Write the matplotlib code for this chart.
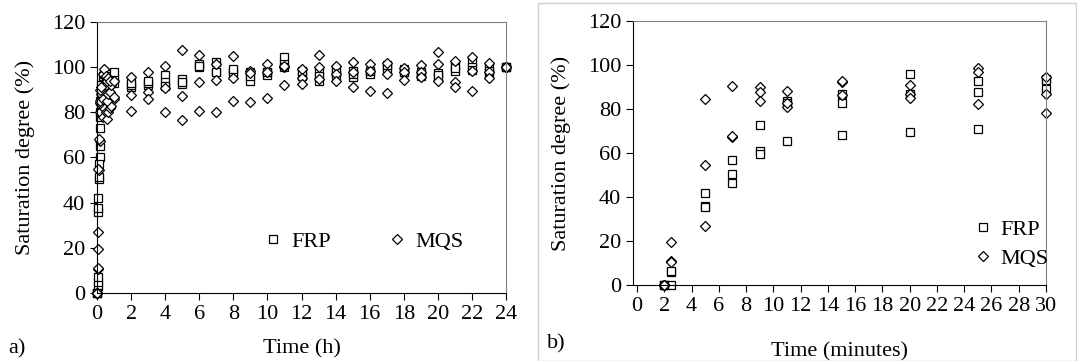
import numpy as np
import matplotlib
matplotlib.use("Agg")
import matplotlib.pyplot as plt
from matplotlib.patches import Rectangle

plt.rcParams['font.family'] = ['Liberation Serif', 'DejaVu Serif']

# a) saturation over 24 h, three replicates per material
time_h = [0, 0.033, 0.083, 0.117, 0.15, 0.183, 0.25, 0.333, 0.417, 0.5,
          0.583, 0.667, 0.75, 0.833, 1.0,
          2, 3, 4, 5, 6, 7, 8, 9, 10, 11, 12, 13, 14, 15, 16, 17, 18, 19,
          20, 21, 22, 23, 24]
frp_h_r1 = [0, 3, 36, 50.5, 60, 78, 83, 85, 88, 90, 91, 92, 93, 93, 93,
            91, 92, 96.7, 94.7, 101.4, 102.5, 98.4, 98, 96.7, 104.3, 98.4,
            97.7, 99, 98.4, 97.7, 100.6, 99, 97.7, 97.2, 100.6, 102.1, 99.9, 100]
frp_h_r2 = [0, 5, 37.5, 51.5, 65, 80, 88, 90, 92, 94, 93, 94, 94, 95, 95,
            92, 93, 93.3, 92.5, 100, 97.7, 97.7, 94, 97.7, 101.4, 96.2,
            94, 96.7, 95.5, 97, 99, 97.7, 96.2, 95.8, 98.4, 100, 97.7, 100]
frp_h_r3 = [0, 7, 42, 57, 73, 85, 92, 96, 97, 95, 95, 96, 97, 96, 98,
            93, 94, 91.8, 93.5, 100.5, 98, 99, 96, 98, 100, 98.5,
            96, 98, 97, 98.5, 101, 98, 97, 96.5, 99.5, 98.8, 98.5, 100]
mqs_h_r1 = [0, 10.5, 27, 54.5, 67.5, 80, 84, 78, 82, 80, 77, 80, 82, 83, 86,
            95.8, 97.7, 100.6, 107.5, 105.6, 101.4, 105, 98.4, 101.4, 99.9, 99.1,
            105.5, 100.6, 102.1, 101.4, 102, 99.5, 101, 106.8, 102.8, 104.6, 102, 100]
mqs_h_r2 = [0, 11, 55, 68, 84, 85, 88, 86, 90, 92, 85, 88, 89, 92, 87,
            87.7, 88.9, 90.8, 87.4, 93.3, 94.4, 95, 97.5, 97.7, 100.5, 95,
            99.9, 97, 98, 98.5, 97, 98, 98, 101.6, 93.6, 98.4, 98, 100]
mqs_h_r3 = [0, 19.5, np.nan, np.nan, np.nan, 90, 91, 97, 99, 96, 94, 95, 94, np.nan, 94,
            80.6, 85.9, 80.3, 76.4, 80.8, 80.1, 85.2, 84.5, 86.4, 92.1, 92.5,
            94.7, 94, 91.1, 89.6, 88.6, 94.4, 95.5, 94, 91.1, 89.6, 95, 100]

# b) first 30 minutes
time_min = [2, 2.5, 5, 7, 9, 11, 15, 20, 25, 30]
frp_m_r1 = [0, 0, 42, 57, 72.7, 83.8, 86.7, 95.9, 92.9, 93.8]
frp_m_r2 = [0, 6, 36, 50.5, 60.9, 82.8, 82.9, 86.8, 87.6, 88.9]
frp_m_r3 = [0, 6.5, 35.5, 46.5, 59.4, 65.6, 68.2, 69.4, 70.9, 93.3]
mqs_m_r1 = [0, 19.5, 84.4, 90.5, 90, 88, 92.4, 90.9, 98.8, 94.7]
mqs_m_r2 = [0, 11, 54.5, 67.4, 87.9, 81.1, 92.6, 86.8, 96.7, 86.7]
mqs_m_r3 = [0, 10.5, 26.8, 67.6, 83.8, 82.8, 86.4, 85.2, 82.1, 78.3]

FS = 16

fig = plt.figure(figsize=(10.77, 3.61), dpi=100)

sq = dict(marker='s', ms=5.6, mfc='white', mec='black', mew=0.9, ls='none', clip_on=False)
di = dict(marker='D', ms=5.4, mfc='white', mec='black', mew=0.9, ls='none', clip_on=False)


def style_axes(ax):
    for s in ['left', 'bottom']:
        ax.spines[s].set_color('black')
    for s in ['top', 'right']:
        ax.spines[s].set_color('#808080')
    ax.tick_params(direction='out', length=5, width=0.8, labelsize=FS, colors='black')
    ax.set_ylim(0, 120)
    ax.set_yticks(np.arange(0, 121, 20))
    ax.set_ylabel('Saturation degree (%)', fontsize=FS, labelpad=12)


# panel a
ax1 = fig.add_axes([0.0901, 0.1884, 0.3797, 0.7507])
for r in [frp_h_r1, frp_h_r2, frp_h_r3]:
    ax1.plot(time_h, r, **sq)
for r in [mqs_h_r1, mqs_h_r2, mqs_h_r3]:
    ax1.plot(time_h, r, **di)
ax1.plot([], [], label='FRP', **sq)
ax1.plot([], [], label='MQS', **di)
style_axes(ax1)
ax1.set_xlim(0, 24)
ax1.set_xticks(np.arange(0, 25, 2))
ax1.set_xlabel('Time (h)', fontsize=FS, labelpad=11)
h, l = ax1.get_legend_handles_labels()
ax1.legend(h[-2:], l[-2:], ncol=2, frameon=False, fontsize=FS, loc='center',
           bbox_to_anchor=(0.65, 0.19), columnspacing=2.5, handletextpad=0.3,
           handlelength=1.0)
fig.text(0.008, 0.02, 'a)', fontsize=FS)

# panel b
fig.patches.append(Rectangle((0.4995, 0.0), 0.5, 0.992, transform=fig.transFigure,
                             fill=False, edgecolor='#d0d0d0', lw=1))
ax2 = fig.add_axes([0.5877, 0.2105, 0.3835, 0.7313])
for r in [frp_m_r1, frp_m_r2, frp_m_r3]:
    ax2.plot(time_min, r, **sq)
for r in [mqs_m_r1, mqs_m_r2, mqs_m_r3]:
    ax2.plot(time_min, r, **di)
ax2.plot([], [], label='FRP', **sq)
ax2.plot([], [], label='MQS', **di)
style_axes(ax2)
ax2.set_xlim(-0.3, 30)
ax2.set_xticks(np.arange(0, 31, 2))
ax2.set_xlabel('Time (minutes)', fontsize=FS, labelpad=19)
h, l = ax2.get_legend_handles_labels()
ax2.legend(h[-2:], l[-2:], frameon=False, fontsize=FS, loc='lower right',
           bbox_to_anchor=(1.055, -0.015), handletextpad=0.3, handlelength=1.0,
           labelspacing=0.4)
fig.text(0.508, 0.035, 'b)', fontsize=FS)

fig.savefig('out.png', dpi=100)
